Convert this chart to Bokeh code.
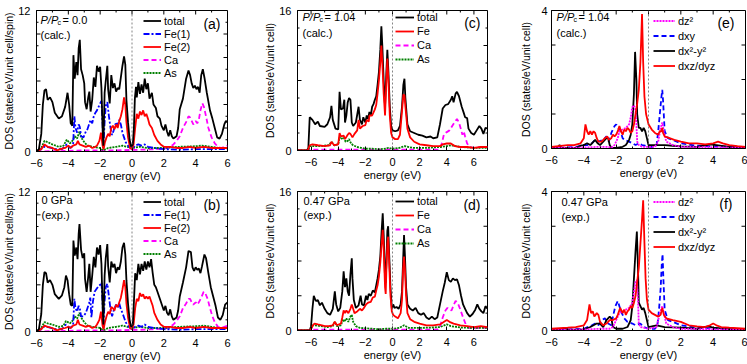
import math
from bokeh.plotting import figure
from bokeh.models import Range1d, FixedTicker, Span, Label, Legend, LegendItem
from bokeh.layouts import column, row
from bokeh.embed import file_html
from bokeh.resources import INLINE

FONT = "Liberation Sans"

# ---------------- data (energy eV, DOS) ----------------
a_total = [(-6.0,0),(-5.85,0.2),(-5.7,1.5),(-5.6,4.0),(-5.5,5.2),(-5.4,5.3),(-5.3,4.4),(-5.15,4.6),(-5.0,4.2),(-4.85,3.3),(-4.6,2.8),(-4.4,3.0),(-4.2,3.8),(-4.05,5.0),(-3.95,4.0),(-3.85,2.4),(-3.75,2.2),(-3.68,8.2),(-3.6,6.2),(-3.5,7.6),(-3.42,6.5),(-3.35,8.8),(-3.28,9.5),(-3.2,7.0),(-3.1,6.5),(-3.0,5.8),(-2.95,4.2),(-2.85,3.6),(-2.75,4.6),(-2.68,5.1),(-2.6,3.4),(-2.5,4.4),(-2.4,6.3),(-2.3,5.5),(-2.2,7.3),(-2.1,6.8),(-2.0,7.2),(-1.92,5.4),(-1.85,2.0),(-1.8,0.5),(-1.72,5.0),(-1.65,6.0),(-1.55,7.3),(-1.5,5.3),(-1.4,4.1),(-1.3,6.5),(-1.2,5.4),(-1.1,5.8),(-1.0,5.1),(-0.9,5.4),(-0.8,5.3),(-0.7,6.3),(-0.6,7.3),(-0.5,8.1),(-0.42,7.4),(-0.35,4.4),(-0.25,2.5),(-0.15,1.0),(-0.05,0.4),(0.05,0.6),(0.12,2.0),(0.18,4.5),(0.25,5.5),(0.3,4.6),(0.4,5.9),(0.5,4.9),(0.6,5.7),(0.7,5.0),(0.8,6.2),(0.9,5.3),(1.0,5.8),(1.1,4.5),(1.25,5.0),(1.35,4.0),(1.5,3.7),(1.6,3.0),(1.75,2.8),(1.85,2.2),(2.0,1.8),(2.1,2.3),(2.2,1.7),(2.3,1.3),(2.4,1.8),(2.5,1.3),(2.6,1.1),(2.8,1.3),(2.9,2.0),(3.0,3.6),(3.2,4.5),(3.4,6.2),(3.55,6.9),(3.65,6.5),(3.75,5.8),(3.85,5.4),(3.95,5.6),(4.05,5.3),(4.15,5.5),(4.25,5.0),(4.35,6.5),(4.45,7.0),(4.55,6.3),(4.7,5.0),(4.9,3.5),(5.05,2.8),(5.2,2.0),(5.35,1.2),(5.5,1.1),(5.65,1.5),(5.8,2.3),(5.9,2.6),(6.0,2.5)]
a_fe1 = [(-6.0,0),(-5.7,0.2),(-5.5,0.4),(-5.2,0.35),(-4.8,0.2),(-4.4,0.2),(-4.1,0.6),(-3.9,0.3),(-3.7,0.5),(-3.62,3.0),(-3.55,2.0),(-3.45,1.6),(-3.35,2.3),(-3.28,2.1),(-3.2,1.3),(-3.05,1.2),(-2.9,1.7),(-2.8,1.9),(-2.7,2.3),(-2.6,2.7),(-2.5,2.4),(-2.4,3.0),(-2.3,3.3),(-2.2,3.5),(-2.1,3.8),(-2.0,4.1),(-1.92,4.3),(-1.85,2.5),(-1.8,0.3),(-1.72,2.5),(-1.65,3.9),(-1.55,4.2),(-1.45,3.0),(-1.35,2.0),(-1.25,1.4),(-1.15,1.8),(-1.0,2.5),(-0.9,2.2),(-0.8,2.7),(-0.7,2.3),(-0.6,1.6),(-0.5,1.2),(-0.4,0.8),(-0.2,0.4),(0.0,0.2),(0.2,0.5),(0.4,0.6),(0.6,0.5),(0.8,0.6),(1.0,0.4),(1.4,0.3),(2.0,0.2),(3.0,0.15),(4.0,0.2),(5.0,0.2),(6.0,0.2)]
a_fe2 = [(-6.0,0),(-5.7,0.2),(-5.5,0.6),(-5.3,0.4),(-5.0,0.3),(-4.7,0.1),(-4.5,0.2),(-4.2,0.3),(-4.0,0.5),(-3.85,0.3),(-3.7,0.5),(-3.5,0.6),(-3.4,0.9),(-3.3,0.6),(-3.1,0.5),(-2.9,0.4),(-2.7,0.5),(-2.5,0.3),(-2.3,0.4),(-2.2,0.5),(-2.05,0.9),(-1.95,1.6),(-1.85,0.5),(-1.78,0.2),(-1.7,0.8),(-1.6,1.2),(-1.5,1.5),(-1.4,1.3),(-1.3,2.0),(-1.2,2.2),(-1.1,1.9),(-1.0,2.3),(-0.9,2.0),(-0.8,2.6),(-0.7,3.0),(-0.6,3.6),(-0.5,4.6),(-0.42,4.0),(-0.35,2.5),(-0.25,1.2),(-0.12,0.3),(0.0,0.2),(0.1,0.6),(0.2,2.0),(0.3,3.2),(0.4,2.8),(0.5,3.4),(0.6,3.1),(0.7,3.5),(0.8,3.0),(0.9,3.2),(1.0,2.8),(1.1,2.3),(1.25,2.0),(1.4,1.4),(1.6,0.9),(1.8,0.6),(2.0,0.4),(2.4,0.4),(2.8,0.3),(3.2,0.3),(3.6,0.4),(4.0,0.3),(4.5,0.4),(5.0,0.3),(5.5,0.3),(6.0,0.3)]
a_ca = [(-6.0,0),(-4.0,0.05),(-3.0,0.1),(-1.0,0.1),(0.5,0.15),(1.5,0.2),(2.3,0.3),(2.6,0.6),(2.8,0.9),(3.0,1.3),(3.2,2.0),(3.4,2.5),(3.55,3.0),(3.65,2.9),(3.75,2.6),(3.85,2.3),(4.0,2.6),(4.1,2.4),(4.2,2.7),(4.3,3.5),(4.42,4.1),(4.52,3.8),(4.65,3.0),(4.8,2.0),(5.0,1.2),(5.2,0.7),(5.4,0.4),(5.6,0.3),(5.8,0.4),(6.0,0.5)]
a_as = [(-6.0,0),(-5.7,0.3),(-5.5,0.9),(-5.3,0.8),(-5.0,0.6),(-4.6,0.4),(-4.3,0.5),(-4.1,1.0),(-3.9,0.7),(-3.75,0.9),(-3.6,1.3),(-3.45,1.1),(-3.3,1.7),(-3.2,1.2),(-3.0,0.8),(-2.8,0.5),(-2.5,0.4),(-2.0,0.3),(-1.8,0.1),(-1.5,0.3),(-1.0,0.4),(-0.6,0.5),(-0.3,0.4),(0.0,0.3),(0.5,0.4),(1.0,0.3),(2.0,0.3),(3.0,0.4),(4.0,0.45),(4.4,0.5),(5.0,0.4),(5.5,0.3),(6.0,0.3)]

b_total = [(-6.0,0),(-5.85,0.2),(-5.7,1.5),(-5.6,4.0),(-5.5,5.1),(-5.4,5.0),(-5.3,4.2),(-5.15,4.4),(-5.0,4.0),(-4.85,3.2),(-4.6,2.8),(-4.4,3.1),(-4.25,3.8),(-4.15,4.8),(-4.05,4.4),(-3.95,3.2),(-3.85,2.3),(-3.75,2.2),(-3.68,7.8),(-3.6,6.5),(-3.5,7.2),(-3.42,6.2),(-3.35,8.4),(-3.3,9.2),(-3.2,7.0),(-3.1,6.3),(-3.0,6.7),(-2.95,4.5),(-2.85,3.4),(-2.75,4.7),(-2.68,5.8),(-2.6,3.4),(-2.5,4.8),(-2.4,6.4),(-2.3,5.5),(-2.2,7.2),(-2.1,6.6),(-2.0,7.4),(-1.92,5.8),(-1.85,2.3),(-1.8,0.6),(-1.72,4.8),(-1.65,6.3),(-1.55,7.5),(-1.5,5.6),(-1.4,4.2),(-1.3,6.0),(-1.2,5.5),(-1.1,5.8),(-1.0,5.0),(-0.9,5.5),(-0.8,5.3),(-0.7,6.0),(-0.6,7.2),(-0.5,7.6),(-0.42,6.6),(-0.35,4.4),(-0.25,2.4),(-0.15,1.0),(-0.05,0.4),(0.05,0.6),(0.12,2.5),(0.2,5.0),(0.3,4.4),(0.4,5.8),(0.5,4.9),(0.6,5.8),(0.7,5.2),(0.8,6.0),(0.9,5.3),(1.0,6.0),(1.1,5.5),(1.2,6.2),(1.3,5.0),(1.4,4.0),(1.5,3.8),(1.6,3.4),(1.75,2.8),(1.85,2.4),(2.0,1.8),(2.1,2.2),(2.2,1.6),(2.3,1.4),(2.4,1.9),(2.5,1.3),(2.6,1.0),(2.8,1.2),(2.9,1.8),(3.0,3.0),(3.2,4.2),(3.4,5.5),(3.55,6.9),(3.7,6.8),(3.8,5.5),(3.9,5.2),(4.0,5.5),(4.1,5.3),(4.2,5.4),(4.3,5.0),(4.4,5.6),(4.55,6.6),(4.65,6.3),(4.8,5.0),(4.95,3.8),(5.1,3.0),(5.25,2.2),(5.4,1.2),(5.55,1.0),(5.7,1.4),(5.85,2.3),(6.0,2.5)]
b_fe1 = [(-6.0,0),(-5.7,0.2),(-5.5,0.45),(-5.2,0.35),(-4.8,0.2),(-4.4,0.2),(-4.15,0.6),(-3.9,0.3),(-3.7,0.5),(-3.62,2.8),(-3.55,2.0),(-3.45,1.7),(-3.35,2.2),(-3.28,2.0),(-3.2,1.3),(-3.05,1.3),(-2.9,1.6),(-2.8,2.0),(-2.7,2.4),(-2.62,2.9),(-2.55,1.2),(-2.45,2.6),(-2.35,3.4),(-2.2,3.7),(-2.1,3.9),(-2.0,4.0),(-1.92,4.2),(-1.85,2.5),(-1.8,0.3),(-1.72,2.6),(-1.65,3.8),(-1.55,4.1),(-1.45,3.0),(-1.35,1.9),(-1.25,1.3),(-1.15,1.8),(-1.0,2.3),(-0.9,2.0),(-0.8,2.4),(-0.7,1.9),(-0.6,1.6),(-0.5,1.2),(-0.4,0.8),(-0.2,0.4),(0.0,0.2),(0.2,0.4),(0.4,0.5),(0.6,0.4),(0.8,0.6),(1.0,0.4),(1.4,0.3),(2.0,0.2),(3.0,0.15),(4.0,0.2),(5.0,0.2),(6.0,0.2)]
b_fe2 = [(-6.0,0),(-5.7,0.2),(-5.5,0.5),(-5.3,0.4),(-5.0,0.3),(-4.7,0.1),(-4.5,0.2),(-4.2,0.3),(-4.0,0.4),(-3.85,0.3),(-3.7,0.5),(-3.5,0.6),(-3.4,1.0),(-3.3,0.6),(-3.1,0.5),(-2.9,0.4),(-2.7,0.5),(-2.5,0.3),(-2.3,0.4),(-2.2,0.6),(-2.05,1.0),(-1.95,1.7),(-1.85,0.5),(-1.78,0.2),(-1.7,0.8),(-1.6,1.3),(-1.5,1.7),(-1.4,1.5),(-1.3,2.1),(-1.2,2.0),(-1.1,1.8),(-1.0,2.3),(-0.9,2.1),(-0.8,2.5),(-0.7,2.9),(-0.6,3.6),(-0.5,4.4),(-0.42,3.8),(-0.35,2.4),(-0.25,1.2),(-0.12,0.3),(0.0,0.2),(0.1,0.6),(0.2,2.0),(0.3,2.8),(0.4,2.6),(0.5,3.3),(0.6,3.0),(0.7,3.2),(0.8,2.8),(0.9,3.0),(1.0,2.8),(1.1,3.0),(1.2,2.6),(1.3,2.2),(1.4,1.6),(1.6,1.0),(1.8,0.6),(2.0,0.4),(2.4,0.4),(2.8,0.3),(3.2,0.3),(3.6,0.4),(4.0,0.3),(4.5,0.4),(5.0,0.3),(5.5,0.3),(6.0,0.3)]
b_ca = [(-6.0,0),(-4.0,0.05),(-3.0,0.1),(-1.0,0.1),(0.5,0.15),(1.5,0.2),(2.3,0.3),(2.6,0.6),(2.8,0.9),(3.0,1.3),(3.2,2.0),(3.4,2.4),(3.55,2.8),(3.65,2.8),(3.75,2.5),(3.85,2.3),(4.0,2.5),(4.1,2.3),(4.2,2.5),(4.35,2.9),(4.5,3.4),(4.6,3.3),(4.75,2.8),(4.9,2.0),(5.05,1.3),(5.2,0.8),(5.4,0.4),(5.6,0.3),(5.8,0.4),(6.0,0.5)]
b_as = [(-6.0,0),(-5.7,0.3),(-5.5,0.8),(-5.3,0.7),(-5.0,0.6),(-4.6,0.4),(-4.3,0.5),(-4.15,0.9),(-3.9,0.7),(-3.75,0.9),(-3.6,1.3),(-3.45,1.1),(-3.3,1.6),(-3.2,1.2),(-3.0,0.8),(-2.8,0.5),(-2.5,0.4),(-2.0,0.3),(-1.8,0.1),(-1.5,0.3),(-1.0,0.4),(-0.6,0.5),(-0.3,0.4),(0.0,0.3),(0.5,0.4),(1.0,0.3),(2.0,0.3),(3.0,0.4),(4.0,0.45),(4.5,0.5),(5.0,0.4),(5.5,0.3),(6.0,0.3)]

c_total = [(-7.0,0),(-6.3,0),(-6.2,0.3),(-6.1,3.8),(-5.9,3.5),(-5.7,3.0),(-5.5,3.3),(-5.35,2.8),(-5.0,2.7),(-4.8,3.0),(-4.6,3.8),(-4.5,5.1),(-4.4,3.5),(-4.2,2.5),(-4.0,2.4),(-3.9,6.7),(-3.8,4.7),(-3.65,4.8),(-3.55,5.8),(-3.5,3.2),(-3.4,4.0),(-3.3,5.5),(-3.2,6.0),(-3.1,5.8),(-3.0,3.2),(-2.9,2.8),(-2.7,3.2),(-2.5,5.0),(-2.4,3.5),(-2.25,3.0),(-2.15,3.8),(-2.0,3.2),(-1.9,4.0),(-1.8,3.6),(-1.7,4.4),(-1.6,4.0),(-1.5,5.0),(-1.4,5.3),(-1.3,5.8),(-1.2,6.2),(-1.1,7.5),(-1.0,9.0),(-0.9,11.5),(-0.82,14.2),(-0.75,12.0),(-0.65,8.0),(-0.55,5.0),(-0.45,9.0),(-0.38,11.5),(-0.3,9.0),(-0.2,5.0),(-0.1,2.8),(0.0,2.3),(0.2,2.2),(0.4,2.3),(0.55,2.8),(0.7,5.0),(0.8,7.5),(0.88,8.2),(0.95,6.0),(1.1,3.0),(1.3,2.2),(1.6,2.0),(1.9,1.8),(2.2,1.7),(2.5,1.5),(2.8,1.6),(3.0,1.4),(3.3,1.5),(3.5,3.0),(3.7,4.8),(3.9,5.2),(4.1,5.3),(4.3,5.8),(4.4,6.2),(4.5,5.5),(4.65,6.5),(4.75,6.7),(4.9,6.2),(5.1,5.0),(5.25,4.3),(5.35,3.8),(5.5,3.7),(5.6,2.5),(5.8,2.0),(6.0,1.8),(6.2,2.3),(6.4,2.8),(6.55,2.5),(6.7,1.9),(6.85,2.6),(7.0,2.5)]
c_fe = [(-7.0,0),(-6.25,0),(-6.1,0.6),(-5.9,0.7),(-5.5,0.6),(-5.0,0.5),(-4.6,0.6),(-4.5,1.0),(-4.3,0.6),(-4.0,0.7),(-3.9,2.0),(-3.8,1.6),(-3.6,1.7),(-3.5,1.3),(-3.3,1.8),(-3.2,2.0),(-3.1,1.9),(-2.95,1.5),(-2.8,1.9),(-2.6,2.3),(-2.5,3.5),(-2.4,2.5),(-2.2,2.8),(-2.0,2.9),(-1.9,3.5),(-1.75,3.3),(-1.7,4.0),(-1.5,4.0),(-1.3,4.7),(-1.2,5.2),(-1.1,6.5),(-1.0,8.0),(-0.9,10.0),(-0.82,12.0),(-0.75,10.0),(-0.65,6.5),(-0.55,4.0),(-0.45,8.0),(-0.38,10.5),(-0.3,8.0),(-0.2,4.0),(-0.1,2.0),(0.0,1.5),(0.2,1.3),(0.4,1.3),(0.55,1.8),(0.7,4.5),(0.8,6.4),(0.88,6.3),(0.95,5.0),(1.1,2.5),(1.3,1.5),(1.6,1.0),(2.0,0.7),(2.5,0.6),(3.0,0.5),(3.5,0.5),(3.7,0.7),(4.0,0.8),(4.3,0.8),(4.6,0.5),(5.0,0.4),(5.5,0.4),(6.0,0.3),(6.5,0.4),(7.0,0.4)]
c_ca = [(-7.0,0),(-6.2,0),(-6.0,0.1),(-3.0,0.1),(0.0,0.1),(3.4,0.1),(3.6,0.6),(3.8,1.9),(4.0,2.1),(4.2,2.3),(4.4,2.8),(4.6,3.3),(4.75,3.6),(4.9,3.2),(5.05,2.4),(5.15,1.8),(5.25,2.2),(5.35,1.6),(5.5,0.8),(5.7,0.4),(6.0,0.3),(6.5,0.4),(7.0,0.4)]
c_as = [(-7.0,0),(-6.2,0),(-6.1,0.5),(-5.8,0.5),(-5.3,0.5),(-4.7,0.6),(-4.5,1.0),(-4.3,0.6),(-4.0,0.7),(-3.9,1.5),(-3.8,1.3),(-3.6,1.5),(-3.45,1.0),(-3.3,1.1),(-3.2,1.3),(-3.05,0.8),(-2.9,0.6),(-2.6,0.4),(-2.3,0.3),(-2.0,0.2),(-1.5,0.2),(-1.0,0.15),(-0.5,0.2),(-0.3,0.3),(0.0,0.2),(0.5,0.3),(0.9,0.5),(1.5,0.3),(2.5,0.3),(3.5,0.4),(4.0,0.5),(4.3,0.6),(5.0,0.4),(6.0,0.3),(7.0,0.3)]

d_total = [(-7.0,0),(-6.1,0),(-6.0,0.5),(-5.9,2.5),(-5.8,4.0),(-5.65,3.4),(-5.5,3.5),(-5.35,2.9),(-5.2,3.2),(-5.0,2.5),(-4.8,2.0),(-4.6,1.8),(-4.4,2.5),(-4.25,4.5),(-4.15,3.0),(-4.0,2.2),(-3.85,2.6),(-3.7,4.5),(-3.6,6.8),(-3.5,5.0),(-3.4,6.0),(-3.3,4.5),(-3.2,4.0),(-3.1,6.5),(-3.0,8.3),(-2.95,6.0),(-2.85,3.5),(-2.7,2.6),(-2.5,2.9),(-2.35,4.0),(-2.25,3.0),(-2.1,2.9),(-1.95,4.0),(-1.85,3.5),(-1.75,4.2),(-1.6,4.0),(-1.45,4.6),(-1.3,4.4),(-1.2,5.2),(-1.1,6.0),(-1.0,7.0),(-0.9,8.5),(-0.8,11.5),(-0.72,13.5),(-0.65,11.0),(-0.55,6.0),(-0.5,5.5),(-0.45,8.0),(-0.38,11.5),(-0.32,12.0),(-0.25,9.0),(-0.15,5.0),(-0.05,2.5),(0.05,3.0),(0.15,2.6),(0.3,2.7),(0.45,2.5),(0.6,3.0),(0.7,4.5),(0.78,8.0),(0.85,11.0),(0.92,8.5),(1.0,5.0),(1.1,3.0),(1.3,2.5),(1.5,2.3),(1.7,2.6),(1.9,2.0),(2.1,1.8),(2.3,2.0),(2.5,1.5),(2.7,1.3),(2.9,1.6),(3.1,1.3),(3.3,1.5),(3.5,3.0),(3.7,4.5),(3.85,5.5),(4.0,6.7),(4.15,5.8),(4.3,5.6),(4.45,6.0),(4.6,5.8),(4.75,5.9),(4.9,5.2),(5.05,4.0),(5.2,3.0),(5.35,2.5),(5.5,2.0),(5.7,1.6),(5.9,1.9),(6.1,2.4),(6.25,3.0),(6.4,2.5),(6.55,2.2),(6.7,2.0),(6.85,2.8),(7.0,2.5)]
d_fe = [(-7.0,0),(-6.05,0),(-5.9,0.5),(-5.75,0.8),(-5.5,0.7),(-5.2,0.6),(-5.0,0.5),(-4.7,0.5),(-4.4,0.6),(-4.25,1.0),(-4.1,0.6),(-3.8,0.8),(-3.7,1.5),(-3.6,2.3),(-3.5,2.0),(-3.4,2.3),(-3.25,2.0),(-3.1,2.5),(-3.0,3.0),(-2.9,2.5),(-2.8,2.0),(-2.6,2.2),(-2.4,2.5),(-2.25,2.3),(-2.1,2.6),(-1.95,3.0),(-1.8,3.2),(-1.6,3.3),(-1.45,3.8),(-1.3,3.9),(-1.2,4.6),(-1.1,5.2),(-1.0,6.2),(-0.9,7.8),(-0.8,10.0),(-0.72,11.6),(-0.65,9.5),(-0.55,5.0),(-0.5,4.2),(-0.45,7.0),(-0.38,10.0),(-0.32,10.8),(-0.25,8.0),(-0.15,4.0),(-0.05,2.2),(0.05,1.8),(0.2,1.6),(0.4,1.4),(0.6,2.0),(0.7,3.5),(0.78,7.0),(0.85,8.5),(0.92,7.0),(1.0,4.0),(1.1,2.0),(1.3,1.3),(1.6,1.0),(2.0,0.8),(2.5,0.6),(3.0,0.6),(3.5,0.7),(3.8,1.0),(4.0,1.2),(4.2,1.0),(4.5,0.8),(5.0,0.6),(5.5,0.5),(6.0,0.4),(6.5,0.5),(7.0,0.4)]
d_ca = [(-7.0,0),(-6.05,0),(-5.9,0.1),(-3.0,0.1),(0.0,0.1),(3.3,0.1),(3.5,0.5),(3.7,1.5),(3.9,2.3),(4.05,2.6),(4.2,2.4),(4.35,2.3),(4.5,2.9),(4.65,3.4),(4.8,3.2),(5.0,2.4),(5.2,1.5),(5.4,0.7),(5.6,0.3),(6.0,0.25),(6.5,0.3),(7.0,0.3)]
d_as = [(-7.0,0),(-6.05,0),(-5.9,0.6),(-5.7,0.6),(-5.3,0.5),(-4.8,0.4),(-4.4,0.5),(-4.25,1.0),(-4.1,0.5),(-3.8,0.6),(-3.65,1.3),(-3.55,1.0),(-3.4,1.4),(-3.25,1.0),(-3.1,1.6),(-3.0,1.8),(-2.9,1.0),(-2.7,0.5),(-2.4,0.3),(-2.0,0.25),(-1.5,0.2),(-1.0,0.15),(-0.5,0.2),(0.0,0.2),(0.5,0.3),(0.85,0.6),(1.2,0.3),(2.0,0.3),(3.0,0.35),(3.5,0.4),(4.0,0.7),(4.3,0.5),(5.0,0.35),(6.0,0.3),(7.0,0.3)]

e_dz2 = [(-6.0,0.02),(-5.0,0.02),(-4.0,0.03),(-3.0,0.05),(-2.5,0.05),(-2.3,0.02),(-2.1,0.1),(-1.9,0.3),(-1.8,0.5),(-1.6,0.55),(-1.4,0.6),(-1.3,0.65),(-1.2,0.7),(-1.1,0.9),(-1.0,1.2),(-0.9,1.25),(-0.8,1.1),(-0.75,0.7),(-0.7,0.2),(-0.6,0.1),(-0.4,0.05),(0.0,0.05),(0.4,0.05),(0.6,0.2),(0.75,0.6),(0.85,0.75),(0.95,0.5),(1.1,0.2),(1.5,0.1),(2.0,0.05),(6.0,0.02)]
e_dxy = [(-6.0,0.02),(-5.0,0.03),(-4.5,0.04),(-4.0,0.1),(-3.8,0.1),(-3.5,0.15),(-3.3,0.25),(-3.1,0.2),(-2.8,0.25),(-2.6,0.35),(-2.45,0.2),(-2.3,0.45),(-2.1,0.65),(-2.0,0.7),(-1.9,0.62),(-1.8,0.55),(-1.7,0.45),(-1.6,0.3),(-1.5,0.25),(-1.2,0.2),(-1.0,0.15),(-0.8,0.1),(-0.6,0.15),(-0.4,0.1),(-0.2,0.08),(0.0,0.05),(0.2,0.05),(0.4,0.05),(0.5,0.1),(0.6,0.5),(0.7,1.0),(0.8,1.5),(0.85,1.7),(0.9,1.4),(1.0,0.5),(1.2,0.3),(1.5,0.25),(2.0,0.15),(3.0,0.08),(4.0,0.06),(5.0,0.05),(6.0,0.03)]
e_dx2y2 = [(-6.0,0.02),(-5.6,0.03),(-5.5,0.1),(-5.4,0.02),(-4.5,0.02),(-4.2,0.08),(-4.0,0.1),(-3.8,0.15),(-3.6,0.1),(-3.4,0.2),(-3.3,0.25),(-3.15,0.15),(-3.0,0.1),(-2.8,0.2),(-2.6,0.3),(-2.5,0.3),(-2.4,0.1),(-2.3,0.02),(-2.0,0.02),(-1.6,0.05),(-1.4,0.1),(-1.2,0.25),(-1.1,0.4),(-1.0,0.7),(-0.9,1.6),(-0.83,2.8),(-0.75,2.0),(-0.7,1.0),(-0.6,0.6),(-0.5,0.6),(-0.4,0.5),(-0.3,0.6),(-0.2,0.5),(-0.1,0.3),(0.0,0.1),(0.3,0.1),(0.6,0.1),(1.0,0.1),(1.5,0.08),(2.0,0.06),(3.0,0.05),(3.6,0.1),(3.8,0.12),(4.2,0.1),(5.0,0.05),(6.0,0.02)]
e_dxz = [(-6.0,0.05),(-5.0,0.1),(-4.6,0.1),(-4.2,0.15),(-4.0,0.3),(-3.9,0.7),(-3.8,0.5),(-3.7,0.4),(-3.6,0.5),(-3.5,0.4),(-3.4,0.5),(-3.3,0.45),(-3.2,0.3),(-3.1,0.2),(-2.9,0.2),(-2.7,0.3),(-2.55,0.35),(-2.45,0.25),(-2.3,0.3),(-2.2,0.4),(-2.1,0.35),(-2.0,0.4),(-1.9,0.5),(-1.8,0.65),(-1.7,0.5),(-1.6,0.4),(-1.5,0.55),(-1.4,0.5),(-1.3,0.6),(-1.2,0.55),(-1.1,0.45),(-1.0,0.5),(-0.9,0.7),(-0.8,1.0),(-0.7,1.3),(-0.6,1.7),(-0.5,2.5),(-0.4,3.9),(-0.33,2.5),(-0.25,1.5),(-0.15,1.0),(0.0,0.7),(0.2,0.55),(0.4,0.45),(0.6,0.4),(0.7,0.5),(0.8,0.5),(0.85,0.6),(0.9,0.45),(1.0,0.35),(1.3,0.3),(1.6,0.25),(2.0,0.2),(2.5,0.15),(3.0,0.15),(3.5,0.12),(4.0,0.15),(4.3,0.2),(4.6,0.15),(5.0,0.1),(5.5,0.07),(6.0,0.05)]

f_dz2 = [(-6.0,0.02),(-4.0,0.03),(-3.0,0.05),(-2.4,0.05),(-2.2,0.1),(-2.0,0.3),(-1.8,0.5),(-1.6,0.55),(-1.4,0.6),(-1.2,0.65),(-1.0,0.8),(-0.9,1.1),(-0.8,1.4),(-0.72,1.45),(-0.65,0.9),(-0.6,0.2),(-0.5,0.1),(0.0,0.05),(0.5,0.1),(0.7,0.5),(0.85,0.7),(0.95,0.5),(1.1,0.2),(1.5,0.1),(2.0,0.05),(6.0,0.02)]
f_dxy = [(-6.0,0.02),(-5.0,0.03),(-4.0,0.05),(-3.5,0.15),(-3.3,0.2),(-3.1,0.15),(-2.9,0.3),(-2.7,0.35),(-2.5,0.2),(-2.3,0.15),(-2.2,0.4),(-2.05,0.7),(-1.9,0.85),(-1.8,0.7),(-1.7,0.55),(-1.5,0.35),(-1.3,0.25),(-1.0,0.2),(-0.8,0.15),(-0.5,0.2),(-0.3,0.1),(0.0,0.05),(0.4,0.05),(0.55,0.15),(0.65,0.6),(0.75,1.2),(0.82,1.9),(0.87,2.2),(0.92,1.5),(1.0,0.6),(1.2,0.3),(1.5,0.25),(2.0,0.15),(3.0,0.08),(4.0,0.06),(5.0,0.04),(6.0,0.03)]
f_dx2y2 = [(-6.0,0.02),(-5.4,0.03),(-5.2,0.08),(-5.0,0.02),(-4.0,0.03),(-3.6,0.1),(-3.4,0.15),(-3.2,0.2),(-3.0,0.2),(-2.8,0.1),(-2.6,0.3),(-2.4,0.4),(-2.3,0.35),(-2.2,0.1),(-2.0,0.05),(-1.6,0.05),(-1.3,0.1),(-1.1,0.3),(-1.0,0.7),(-0.9,1.5),(-0.8,2.3),(-0.72,2.85),(-0.65,1.8),(-0.6,0.8),(-0.5,0.7),(-0.4,0.6),(-0.3,0.65),(-0.2,0.5),(-0.1,0.3),(0.0,0.1),(0.5,0.15),(1.0,0.1),(2.0,0.08),(3.0,0.05),(3.4,0.1),(3.7,0.12),(4.0,0.08),(5.0,0.04),(6.0,0.02)]
f_dxz = [(-6.0,0.05),(-5.0,0.08),(-4.5,0.1),(-4.0,0.15),(-3.8,0.3),(-3.65,0.75),(-3.55,0.5),(-3.45,0.55),(-3.35,0.4),(-3.2,0.5),(-3.1,0.45),(-3.0,0.25),(-2.8,0.15),(-2.6,0.2),(-2.4,0.3),(-2.2,0.3),(-2.0,0.35),(-1.9,0.45),(-1.75,0.65),(-1.6,0.5),(-1.5,0.6),(-1.4,0.45),(-1.3,0.55),(-1.2,0.6),(-1.1,0.7),(-1.0,0.65),(-0.9,0.8),(-0.8,1.0),(-0.7,1.4),(-0.6,1.8),(-0.5,2.5),(-0.4,3.2),(-0.33,3.75),(-0.25,2.5),(-0.18,1.5),(-0.1,0.9),(0.0,0.6),(0.2,0.5),(0.4,0.45),(0.6,0.4),(0.75,0.45),(0.85,0.65),(0.95,0.45),(1.1,0.35),(1.5,0.3),(2.0,0.25),(2.5,0.15),(3.0,0.12),(3.5,0.1),(3.8,0.15),(4.0,0.2),(4.2,0.15),(4.5,0.1),(5.0,0.08),(6.0,0.05)]

# ticks
ticks_x6 = [-6, -4, -2, 0, 2, 4, 6]
minor_x6 = [-5, -3, -1, 1, 3, 5]
ticks_x7 = [-6, -4, -2, 0, 2, 4, 6]
minor_x7 = [-7, -5, -3, -1, 1, 3, 5, 7]
ya_major, ya_minor = [2, 4, 6, 8, 10], [1, 3, 5, 7, 9, 11]
yc_major, yc_minor = [4, 8, 12], [2, 6, 10, 14]
ye_major, ye_minor = [1, 2, 3], []

BLACK, RED, BLUE, MAG, GRN = "#000000", "#ff0000", "#0000ff", "#ff00ff", "#008000"
LW = 1.8


def style_axis(ax, ticks, minor, standoff):
    ax.ticker = FixedTicker(ticks=ticks, minor_ticks=minor)
    ax.axis_line_color = "black"
    ax.axis_line_width = 1
    ax.major_tick_line_color = "black"
    ax.minor_tick_line_color = "black"
    ax.major_tick_in = 4
    ax.major_tick_out = 0
    ax.minor_tick_in = 2
    ax.minor_tick_out = 0
    ax.major_label_text_font = FONT
    ax.major_label_text_font_size = "11px"
    ax.major_label_text_color = "black"
    ax.major_label_standoff = standoff
    ax.axis_label_text_font = FONT
    ax.axis_label_text_font_style = "normal"
    ax.axis_label_text_color = "black"


def make_panel(xr, yr, xt, xm, ymaj, ymin, fw, fh, bl, br, bt, bb,
               ylabel, ystand, ylstand):
    p = figure(frame_width=fw, frame_height=fh,
               x_range=Range1d(*xr), y_range=Range1d(*yr),
               min_border_left=bl, min_border_right=br,
               min_border_top=bt, min_border_bottom=bb,
               toolbar_location=None, tools="", output_backend="svg")
    p.xgrid.visible = False
    p.ygrid.visible = False
    p.outline_line_color = "black"
    p.outline_line_width = 1
    p.background_fill_color = "white"
    p.border_fill_color = "white"
    xa = p.xaxis[0]
    style_axis(xa, xt, xm, 7)
    xa.axis_label = "energy (eV)"
    xa.axis_label_text_font_size = "11px"
    xa.axis_label_standoff = 0
    ya = p.yaxis[0]
    style_axis(ya, [yr[0], yr[1]], [], ystand)
    ya.axis_label = ylabel
    ya.axis_label_text_font_size = "10.5px"
    ya.axis_label_standoff = ylstand
    # inward ticks on the other frame edges (half of each dash is clipped by the frame)
    x0, x1 = xr
    y0, y1 = yr
    p.scatter(xt, [y1] * len(xt), marker="dash", size=8, angle=math.pi / 2,
              line_color="black", line_width=1)
    p.scatter(xm, [y1] * len(xm), marker="dash", size=4, angle=math.pi / 2,
              line_color="black", line_width=1)
    for xe in (x0, x1):
        p.scatter([xe] * len(ymaj), ymaj, marker="dash", size=8,
                  line_color="black", line_width=1)
        if ymin:
            p.scatter([xe] * len(ymin), ymin, marker="dash", size=4,
                      line_color="black", line_width=1)
    p.add_layout(Span(location=0, dimension="height", line_color="#666666",
                      line_dash="2 2", line_width=0.8))
    return p


def draw(p, pts, color, dash="solid", width=LW):
    xs = [q[0] for q in pts]
    ys = [q[1] for q in pts]
    return p.line(xs, ys, line_color=color, line_width=width, line_dash=dash)


def add_legend(p, entries, vx, vy, lh, gw):
    items = [LegendItem(label=lab, renderers=[r]) for lab, r in entries]
    lg = Legend(items=items, location=(vx, vy), background_fill_alpha=0,
                border_line_color=None, label_text_font=FONT,
                label_text_font_size="11px", label_text_color="black",
                glyph_width=gw, glyph_height=lh, label_height=lh,
                spacing=0, padding=0, margin=0, label_standoff=3)
    p.add_layout(lg)


def txt(p, x, y, s, dx, dy, size="11px", style="normal", align="left"):
    p.add_layout(Label(x=x, y=y, x_offset=dx, y_offset=dy, text=s,
                       text_font=FONT, text_font_size=size,
                       text_font_style=style, text_color="black",
                       text_align=align, text_baseline="middle"))


def pressure(p, x0, y1, val, dx, dy):
    txt(p, x0, y1, "P/P", dx, dy, style="italic")
    txt(p, x0, y1, "c", dx + 17, dy - 3, size="7px")
    txt(p, x0, y1, "= " + val, dx + 22, dy)


# ---------------- panels ----------------
LAB1 = "DOS (states/eV/unit cell/spin)"
LAB2 = "DOS (states/eV/unit cell)"
FA, FC, FE = 141, 140, 138
FB, FD, FF = 140, 139, 139
H1, H2 = 187, 177
pa = make_panel((-6, 6), (0, 12), ticks_x6, minor_x6, ya_major, ya_minor, 191, FA, 36, 4, 10, H1 - 10 - FA, LAB1, 6, 0)
pc = make_panel((-7, 7), (0, 16), ticks_x7, minor_x7, yc_major, yc_minor, 190, FC, 66, 4, 10, H1 - 10 - FC, LAB2, 6, 0)
pe = make_panel((-6, 6), (0, 4), ticks_x6, minor_x6, ye_major, ye_minor, 194, FE, 60, 2, 10, H1 - 10 - FE, LAB2, 4, 6)
pb = make_panel((-6, 6), (0, 12), ticks_x6, minor_x6, ya_major, ya_minor, 191, FB, 36, 4, 4, H2 - 4 - FB, LAB1, 6, 0)
pd = make_panel((-7, 7), (0, 16), ticks_x7, minor_x7, yc_major, yc_minor, 190, FD, 66, 4, 4, H2 - 4 - FD, LAB2, 6, 0)
pf = make_panel((-6, 6), (0, 4), ticks_x6, minor_x6, ye_major, ye_minor, 194, FF, 60, 2, 2, H2 - 2 - FF, LAB2, 4, 6)

# panel a / b
for p, fh, tot, f1, f2, ca, a_s in [(pa, FA, a_total, a_fe1, a_fe2, a_ca, a_as),
                                    (pb, FB, b_total, b_fe1, b_fe2, b_ca, b_as)]:
    r_ca = draw(p, ca, MAG, "5 3")
    r_as = draw(p, a_s, GRN, "2 1")
    r_f1 = draw(p, f1, BLUE, "6 2 2 2")
    r_f2 = draw(p, f2, RED)
    r_t = draw(p, tot, BLACK)
    add_legend(p, [("total", r_t), ("Fe(1)", r_f1), ("Fe(2)", r_f2), ("Ca", r_ca), ("As", r_as)],
               107, fh - 4 - 65, 13, 18)

pressure(pa, -6, 12, "0.0", 4, -9)
txt(pa, -6, 12, "(calc.)", 4, -24)
txt(pa, 6, 12, "(a)", -7, -13, size="14px", align="right")
txt(pb, -6, 12, "0 GPa", 5, -8)
txt(pb, -6, 12, "(exp.)", 5, -23)
txt(pb, 6, 12, "(b)", -7, -13, size="14px", align="right")

# panel c / d
for p, fh, top, tot, fe, ca, a_s in [(pc, FC, 0, c_total, c_fe, c_ca, c_as), (pd, FD, 3, d_total, d_fe, d_ca, d_as)]:
    r_ca = draw(p, ca, MAG, "5 3")
    r_as = draw(p, a_s, GRN, "2 1")
    r_t = draw(p, tot, BLACK)
    r_fe = draw(p, fe, RED)
    add_legend(p, [("total", r_t), ("Fe", r_fe), ("Ca", r_ca), ("As", r_as)],
               98, fh - top - 56, 14, 19)

pressure(pc, -7, 16, "1.04", 5, -6)
txt(pc, -7, 16, "(calc.)", 5, -22)
txt(pc, 7, 16, "(c)", -7, -12, size="14px", align="right")
txt(pd, -7, 16, "0.47 GPa", 6, -9)
txt(pd, -7, 16, "(exp.)", 6, -23)
txt(pd, 7, 16, "(d)", -7, -13, size="14px", align="right")

# panel e / f
for p, fh, dz, dxy, dx2, dxz in [(pe, FE, e_dz2, e_dxy, e_dx2y2, e_dxz), (pf, FF, f_dz2, f_dxy, f_dx2y2, f_dxz)]:
    r_dxy = draw(p, dxy, BLUE, "5 3")
    r_dx2 = draw(p, dx2, BLACK)
    r_dz = draw(p, dz, MAG, "2 1")
    r_dxz = draw(p, dxz, RED)
    add_legend(p, [("dz\u00b2", r_dz), ("dxy", r_dxy), ("dx\u00b2-y\u00b2", r_dx2), ("dxz/dyz", r_dxz)],
               102, fh - 3 - 60, 15, 22)

pressure(pe, -6, 4, "1.04", 5, -6)
txt(pe, -6, 4, "(calc.)", 5, -22)
txt(pe, 6, 4, "(e)", -11, -12, size="14px", align="right")
txt(pf, -6, 4, "0.47 GPa", 10, -10)
txt(pf, -6, 4, "(exp.)", 10, -25)
txt(pf, 6, 4, "(f)", -13, -12, size="14px", align="right")

layout = column(row(pa, pc, pe), row(pb, pd, pf))
open("out.html", "w").write(file_html(layout, INLINE))
